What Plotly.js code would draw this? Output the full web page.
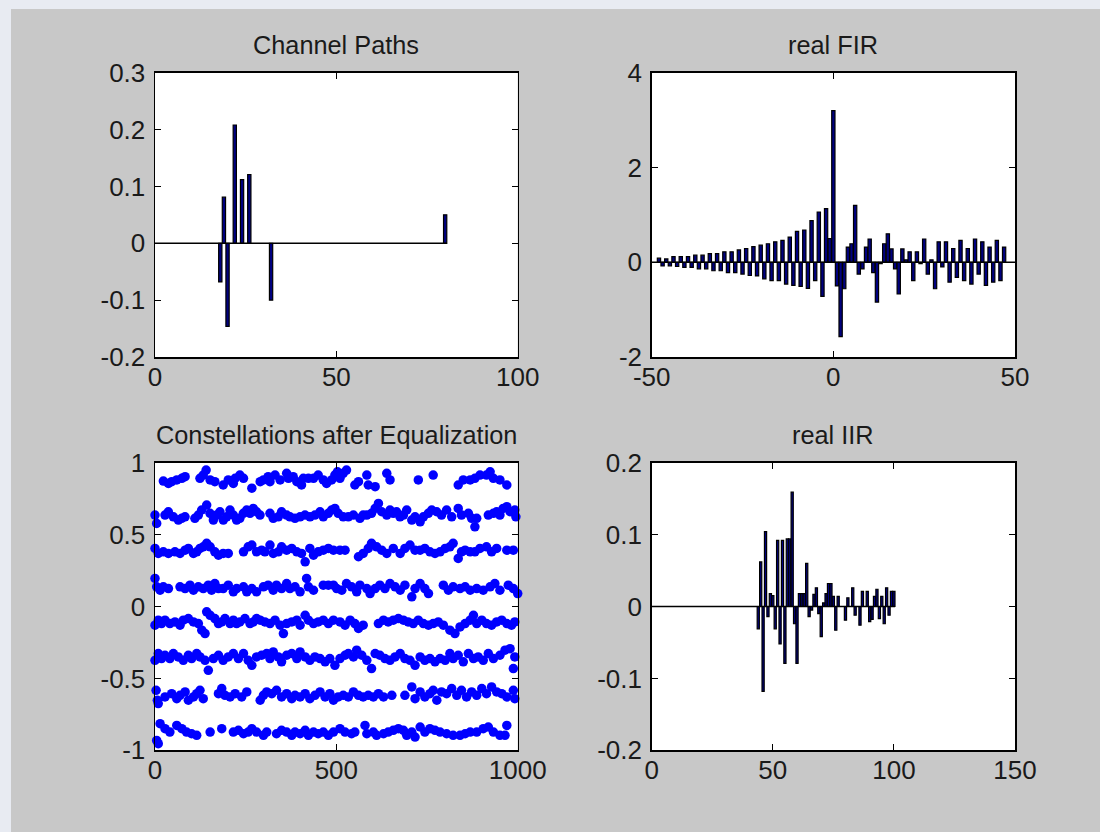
<!DOCTYPE html>
<html>
<head>
<meta charset="utf-8">
<script src="https://cdn.plot.ly/plotly-3.0.1.min.js"></script>
<style>
  html, body { margin:0; padding:0; background:#e8ebf2; }
  #plot { position:absolute; left:11px; top:9px; width:1089px; height:823px; }
</style>
</head>
<body>
<div id="plot"></div>
<script>
// ---------- Titles ----------
const titles = ["Channel Paths", "real FIR", "Constellations after Equalization", "real IIR"];

// ---------- Channel Paths ----------
const chanX = [18, 19, 20, 22, 24, 26, 32, 80];
const chanY = [-0.068, 0.081, -0.146, 0.208, 0.112, 0.121, -0.1, 0.05];

// ---------- real FIR (taps -48 .. 47) ----------
const firStart = -48;
const firY = [0.085,-0.08,0.07,-0.075,0.12,-0.09,0.12,-0.11,0.12,-0.11,
  0.15,-0.14,0.15,-0.14,0.18,-0.18,0.18,-0.18,0.22,-0.22,
  0.22,-0.22,0.26,-0.25,0.29,-0.28,0.33,-0.29,0.36,-0.35,
  0.39,-0.39,0.43,-0.39,0.46,-0.46,0.53,-0.49,0.65,-0.51,
  0.68,-0.55,0.88,-0.39,1.06,-0.72,1.13,0.5,3.2,-0.5,
  -1.57,-0.56,0.32,0.39,1.2,-0.25,-0.14,0.32,0.49,-0.22,
  -0.84,-0.03,0.39,0.6,0.28,-0.14,-0.67,0.28,0.05,0.22,
  -0.39,0.22,-0.03,0.49,-0.25,0.05,-0.56,0.43,-0.1,0.43,
  -0.42,0.29,-0.32,0.46,-0.39,0.29,-0.46,0.49,-0.25,0.43,
  -0.49,0.32,-0.42,0.46,-0.39,0.32];

// ---------- real IIR (taps 44 .. 100) ----------
const iirStart = 44;
const iirY = [-0.031,0.062,-0.118,0.104,-0.014,0.018,0.015,-0.031,0.092,-0.052,
  0.092,-0.079,0.094,0.094,0.159,-0.024,-0.079,0.018,0.018,0.018,
  0.06,-0.014,-0.005,0.017,0.026,-0.01,-0.042,0.005,0.018,0.032,
  0.032,0.014,-0.033,0.014,0,0,-0.019,0.012,0,0.026,
  -0.012,0,-0.026,0.021,0,0.021,-0.021,-0.018,0.014,0.024,
  -0.017,0.014,-0.024,0.026,-0.012,0.021,0.021];

// ---------- Constellations after Equalization (8 rows) ----------
const row1X = [23,37,46,60,74,83,124,133,141,152,165,188,202,216,221,234,244,267,290,299,312,317,331,345,363,368,381,391,404,409,423,437,450,464,473,487,496,503,510,519,528,551,561,584,588,607,639,648,726,767,836,850,869,882,896,914,924,933,951,970];
const row1Y = [.872,.856,.868,.88,.891,.903,.891,.914,.949,.88,.868,.845,.88,.856,.891,.914,.891,.823,.868,.88,.903,.868,.914,.88,.926,.891,.903,.868,.845,.891,.891,.891,.914,.88,.856,.88,.914,.937,.891,.926,.949,.845,.868,.914,.845,.833,.926,.88,.88,.914,.845,.88,.88,.891,.914,.914,.937,.891,.88,.845];
const row2X = [0,4.6,27.6,36.8,50.6,64.4,73.6,82.7,110,119.5,128.7,142.5,151.7,160.9,170,179,188.4,197.6,206.8,216,225,234,243.6,252.8,262,271,280,289.5,317,326,340,349,363,372,386,400,413.6,427.4,441,455,464,478,487,496,505,519,533,547,565,574,584,597,607,616,625,639,648,657,666,675.5,685,694,708,717,731,740,753.6,763,776.6,790,804,818,836,845,864,873,882,887,919,933,942,951,960,970,979,992,995];
const row2Y = [.636,.578,.636,.659,.624,.601,.613,.624,.613,.636,.671,.705,.648,.601,.636,.659,.601,.624,.671,.636,.601,.613,.648,.671,.648,.682,.659,.636,.648,.613,.624,.659,.636,.624,.613,.624,.636,.624,.636,.659,.624,.648,.671,.682,.648,.624,.624,.636,.613,.636,.636,.648,.682,.717,.659,.636,.671,.648,.659,.624,.636,.671,.601,.624,.589,.624,.648,.671,.659,.636,.671,.624,.682,.636,.648,.613,.554,.613,.636,.648,.659,.636,.682,.694,.659,.671,.624];
const row3X = [0,9,23,37,55,69,83,92,106,115,124,133,142.5,152,165,175,188,202,244,257,267,280,294,303,317,326,340,349,363,377,391,404,414,427,437,450,464,478,492,510,524,561,574,588,597,611,625,639,657,676,689,703,717,731,744,758,772,786,800,813,822,836,845,855,869,882,896,914,928,942,970,988];
const row3Y = [.404,.369,.380,.369,.380,.369,.392,.404,.369,.380,.404,.415,.439,.415,.380,.357,.369,.369,.380,.415,.427,.380,.392,.380,.427,.369,.380,.415,.392,.404,.380,.369,.311,.404,.357,.380,.392,.404,.392,.392,.392,.346,.369,.404,.439,.415,.392,.369,.404,.369,.404,.427,.392,.392,.404,.380,.369,.380,.404,.415,.439,.334,.380,.392,.380,.380,.404,.415,.380,.404,.392,.392];
const row4X = [0,4.6,14,23,37,69,83,96.5,106,119.5,133,147,156,165,175,188,202,216,225,244,253,267,280,299,312,326,335,349,363,372,386,400,418,423,437,464,478,492,501,515,528,542,556,565,584,593,607,620,634,648,662,676,689,708,717,731,744,754,795,809,822,841,855,869,887,905,924,937,951,974,988,1000];
const row4Y = [.195,.137,.113,.137,.125,.137,.125,.148,.113,.137,.125,.148,.113,.160,.125,.125,.148,.102,.125,.137,.102,.125,.102,.137,.148,.113,.148,.125,.160,.125,.137,.102,.195,.137,.113,.148,.148,.148,.125,.113,.160,.137,.102,.148,.125,.090,.125,.148,.125,.160,.137,.113,.148,.067,.125,.160,.125,.090,.148,.113,.137,.125,.137,.113,.125,.113,.137,.160,.113,.148,.125,.090];
const row5X = [0,9,18,27.6,41,55,69,78,92,106,119.5,129,138,142.5,152,165,175,184,193,207,216,225,234,248,262,271,280,290,303,317,331,345,354,363,377,391,400,414,423,437,450,464,478,492,510,524,538,551,561,574,616,630,643,657,671,685,698,712,726,740,754,767,781,795,813,827,841,855,869,878,887,901,914,928,942,956,970,983,992];
const row5Y = [-.130,-.095,-.119,-.095,-.119,-.107,-.130,-.095,-.084,-.107,-.119,-.165,-.188,-.037,-.061,-.084,-.119,-.107,-.084,-.119,-.095,-.119,-.107,-.084,-.119,-.107,-.084,-.095,-.107,-.119,-.095,-.130,-.188,-.119,-.107,-.095,-.130,-.061,-.095,-.119,-.107,-.095,-.119,-.095,-.107,-.130,-.095,-.119,-.153,-.130,-.119,-.095,-.107,-.095,-.084,-.095,-.107,-.119,-.095,-.119,-.130,-.119,-.107,-.130,-.165,-.188,-.142,-.119,-.095,-.061,-.119,-.095,-.119,-.130,-.107,-.095,-.119,-.130,-.107];
const row6X = [0,9,18,27.6,41,50.6,64,78,92,101,115,124,138,147,161,175,188,202,216,230,244,257,267,280,294,308,317,326,340,349,363,377,391,400,414,427,441,455,469,482,496,510,524,533,547,556,570,584,597,607,620,634,648,662,676,689,703,717,731,744,758,772,786,800,813,822,836,850,864,878,891,905,919,933,951,965,979,988,992];
const row6Y = [-.374,-.327,-.362,-.339,-.362,-.327,-.351,-.374,-.339,-.362,-.327,-.351,-.374,-.444,-.362,-.339,-.374,-.351,-.327,-.362,-.327,-.374,-.409,-.351,-.339,-.327,-.362,-.316,-.351,-.385,-.339,-.327,-.362,-.316,-.351,-.374,-.351,-.362,-.385,-.362,-.409,-.362,-.339,-.327,-.351,-.304,-.339,-.374,-.432,-.327,-.339,-.362,-.374,-.351,-.327,-.362,-.374,-.409,-.351,-.374,-.362,-.385,-.362,-.374,-.327,-.362,-.339,-.385,-.327,-.362,-.351,-.374,-.327,-.362,-.339,-.304,-.293,-.432,-.351];
const row7X = [3,6.5,9,27.6,46,60,69,83,92,106,115,124,133,175,184,193,207,221,239,253,290,299,308,322,335,349,363,377,386,400,414,427,441,455,469,482,492,505,519,533,547,561,574,588,602,616,630,653,689,708,717,731,744,758,767,777,790,804,818,832,845,859,873,887,901,914,928,942,956,970,988,992];
const row7Y = [-.583,-.652,-.675,-.629,-.606,-.641,-.618,-.594,-.652,-.629,-.606,-.583,-.641,-.606,-.571,-.618,-.629,-.606,-.629,-.594,-.652,-.618,-.594,-.606,-.583,-.629,-.606,-.641,-.618,-.629,-.606,-.641,-.618,-.594,-.629,-.606,-.652,-.629,-.618,-.629,-.594,-.618,-.629,-.618,-.629,-.606,-.629,-.618,-.618,-.559,-.641,-.594,-.629,-.606,-.583,-.652,-.594,-.606,-.571,-.618,-.583,-.629,-.594,-.618,-.571,-.606,-.559,-.594,-.606,-.629,-.583,-.641];
const row8X = [4.6,9,14,27.6,41,60,74,87,101,115,152,184,216,230,244,257,267,280,299,308,335,349,363,377,386,400,414,423,437,450,464,478,492,510,524,542,551,579,584,602,611,630,643,657,671,685,694,708,717,731,744,758,772,786,804,822,841,855,869,887,905,919,933,951,965,970];
const row8Y = [-.931,-.954,-.815,-.850,-.873,-.827,-.850,-.873,-.885,-.896,-.873,-.850,-.873,-.861,-.885,-.873,-.850,-.873,-.896,-.873,-.885,-.861,-.873,-.896,-.873,-.885,-.861,-.896,-.873,-.885,-.873,-.896,-.873,-.850,-.873,-.885,-.873,-.827,-.885,-.873,-.896,-.885,-.873,-.861,-.850,-.861,-.896,-.873,-.908,-.838,-.873,-.850,-.861,-.873,-.885,-.896,-.896,-.885,-.873,-.873,-.850,-.838,-.873,-.896,-.896,-.827];

// ---------- Tick values / labels ----------
const chanXTicks = [0, 50, 100],        chanXText = ["0", "50", "100"];
const chanYTicks = [-0.2,-0.1,0,0.1,0.2,0.3], chanYText = ["-0.2","-0.1","0","0.1","0.2","0.3"];
const firXTicks = [-50, 0, 50],         firXText = ["-50", "0", "50"];
const firYTicks = [-2, 0, 2, 4],        firYText = ["-2", "0", "2", "4"];
const conXTicks = [0, 500, 1000],       conXText = ["0", "500", "1000"];
const conYTicks = [-1,-0.5,0,0.5,1],    conYText = ["-1", "-0.5", "0", "0.5", "1"];
const iirXTicks = [0, 50, 100, 150],    iirXText = ["0", "50", "100", "150"];
const iirYTicks = [-0.2,-0.1,0,0.1,0.2], iirYText = ["-0.2","-0.1","0","0.1","0.2"];

// ---------- build ----------
const firX = firY.map((_, i) => firStart + i);
const iirX = iirY.map((_, i) => iirStart + i);
const conX = [].concat(row1X,row2X,row3X,row4X,row5X,row6X,row7X,row8X);
const conY = [].concat(row1Y,row2Y,row3Y,row4Y,row5Y,row6Y,row7Y,row8Y);

const BAR_W = 0.9;
const barStyle = { color: '#000080', line: { color: '#000000', width: 1.2 } };

const traces = [
  { type:'bar', x: chanX, y: chanY, width: BAR_W, marker: barStyle, xaxis:'x', yaxis:'y', hoverinfo:'x+y' },
  { type:'bar', x: firX, y: firY, width: BAR_W, marker: barStyle, xaxis:'x2', yaxis:'y2', hoverinfo:'x+y' },
  { type:'scatter', mode:'markers', x: conX, y: conY, marker:{ color:'#0000ff', size:9.5, line:{width:0} },
    cliponaxis:false, xaxis:'x3', yaxis:'y3', hoverinfo:'x+y' },
  { type:'bar', x: iirX, y: iirY, width: BAR_W, marker: barStyle, xaxis:'x4', yaxis:'y4', hoverinfo:'x+y' }
];

const W = 1089, H = 823;
const dx1 = [144/W, 506.7/W], dx2 = [640.7/W, 1004/W];
const dyTop = [1 - 348/H, 1 - 63.7/H], dyBot = [1 - 741.3/H, 1 - 453.7/H];

const tickFont = { family: 'Liberation Sans, Arial, sans-serif', size: 26, color: '#1a1a1a' };
const titleFont = { family: 'Liberation Sans, Arial, sans-serif', size: 25.3, color: '#1a1a1a' };

function ax(domain, anchor, range, vals, text, isY) {
  return {
    domain: domain, anchor: anchor, range: range,
    tickmode: 'array', tickvals: vals, ticktext: text,
    ticks: 'inside', ticklen: 6, tickwidth: 1, tickcolor: '#000',
    showline: true, linecolor: '#000', linewidth: 1.5, mirror: 'ticks',
    showgrid: false, zeroline: false, fixedrange: true,
    tickfont: tickFont, ticklabelstandoff: isY ? 3 : -4, automargin: false
  };
}

const shapes = [
  { type:'line', xref:'x', yref:'y', x0: 0, x1: Math.max(...chanX) + BAR_W/2, y0:0, y1:0, line:{color:'#000', width:1.5} },
  { type:'line', xref:'x2', yref:'y2', x0: -50, x1: 50, y0:0, y1:0, line:{color:'#000', width:1.5} },
  { type:'line', xref:'x4', yref:'y4', x0: 0, x1: Math.max(...iirX) + BAR_W/2, y0:0, y1:0, line:{color:'#000', width:1.5} }
];

const doms = [[dx1, dyTop], [dx2, dyTop], [dx1, dyBot], [dx2, dyBot]];
const annotations = titles.map((t, i) => ({
  text: t, showarrow: false, xref: 'paper', yref: 'paper',
  x: (doms[i][0][0] + doms[i][0][1]) / 2, y: doms[i][1][1],
  xanchor: 'center', yanchor: 'middle', yshift: 28, font: titleFont
}));

const layout = {
  width: W, height: H,
  margin: { l:0, r:0, t:0, b:0, pad:0 },
  paper_bgcolor: '#c8c8c8', plot_bgcolor: '#ffffff',
  showlegend: false, bargap: 0, barmode: 'overlay',
  font: tickFont,
  xaxis:  ax(dx1, 'y',  [0, 100],  chanXTicks, chanXText, false),
  yaxis:  ax(dyTop, 'x', [-0.2, 0.3], chanYTicks, chanYText, true),
  xaxis2: ax(dx2, 'y2', [-50, 50], firXTicks, firXText, false),
  yaxis2: ax(dyTop, 'x2', [-2, 4], firYTicks, firYText, true),
  xaxis3: ax(dx1, 'y3', [0, 1000], conXTicks, conXText, false),
  yaxis3: ax(dyBot, 'x3', [-1, 1], conYTicks, conYText, true),
  xaxis4: ax(dx2, 'y4', [0, 150], iirXTicks, iirXText, false),
  yaxis4: ax(dyBot, 'x4', [-0.2, 0.2], iirYTicks, iirYText, true),
  shapes: shapes, annotations: annotations
};

Plotly.newPlot('plot', traces, layout, { displayModeBar: false, staticPlot: true });
</script>
</body>
</html>
